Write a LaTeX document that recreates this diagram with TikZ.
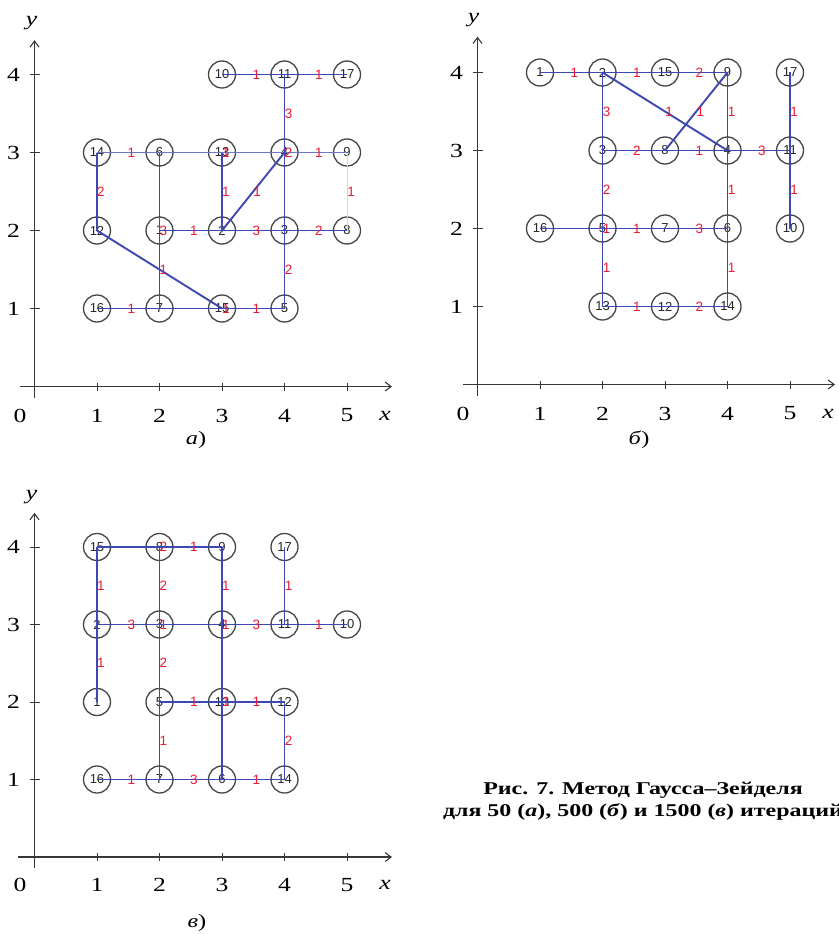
\documentclass[tikz,border=0pt]{standalone}
\usepackage{fontspec}
\setmainfont{Liberation Serif}
\newfontfamily\lsans{Liberation Sans}
\newfontfamily\wserif[FakeStretch=1.28]{Liberation Serif}
\newfontfamily\capserif[FakeStretch=1.33]{Liberation Serif}
\usetikzlibrary{arrows.meta}
\definecolor{edgeblue}{RGB}{62,72,178}
\definecolor{lblred}{RGB}{238,24,52}
\definecolor{circgray}{RGB}{70,70,70}
\definecolor{axgray}{RGB}{55,55,55}
\begin{document}
\begin{tikzpicture}[x=1pt,y=-1pt,
  vtx/.style={circle,draw=circgray,line width=1.3pt,minimum size=27pt,inner sep=0pt,
    font=\lsans\fontsize{13}{13}\selectfont,text=black!85},
  edge/.style={draw=edgeblue,line width=1.9pt},
  thinedge/.style={draw=edgeblue!75,line width=1.1pt},
  faintedge/.style={draw=edgeblue!22,line width=1pt},
  lh/.style={pos=0.55,text=lblred,font=\lsans\fontsize{13.5}{13.5}\selectfont,inner sep=0pt},
  lv/.style={pos=0.5,xshift=4pt,text=lblred,font=\lsans\fontsize{13.5}{13.5}\selectfont,inner sep=0pt},
  axis/.style={draw=axgray,line width=1.3pt},
  axarrow/.style={axis,-{Straight Barb[length=6pt,width=9pt,line width=1.1pt]}},
  axtick/.style={draw=axgray,line width=1pt},
  axnum/.style={font=\wserif\fontsize{20}{24}\selectfont,inner sep=0pt},
  axvar/.style={font=\wserif\itshape\fontsize{20}{24}\selectfont,inner sep=0pt},
  subcap/.style={font=\wserif\fontsize{19}{23}\selectfont,inner sep=0pt},
  figcap/.style={font=\capserif\bfseries\fontsize{18}{22}\selectfont,align=center,inner sep=0pt}
]
\useasboundingbox[fill=white] (0,0) rectangle (838,934);

% ---------------- panel a ----------------
\begin{scope}[shift={(34.5pt,-386.5pt)},x=62.5pt,y=78pt]
  \draw[axarrow] (-0.23,0) -- (5.72,0);
  \draw[axarrow] (0,-0.15) -- (0,4.44);
  \foreach \i in {1,...,4} \draw[axtick] ([xshift=-5pt]0,\i) -- ([xshift=5pt]0,\i);
  \foreach \i in {1,...,5} \draw[axtick] ([yshift=-4pt]\i,0) -- ([yshift=4pt]\i,0);
  \foreach \i in {1,...,5} \node[axnum] (ax-a\i) at ([yshift=-29pt]\i,0) {\i};
  \node[axnum] (ax-a0) at ([xshift=-14.5pt,yshift=-29pt]0,0) {0};
  \foreach \i in {1,...,4} \node[axnum] (ay-a\i) at ([xshift=-21pt]0,\i) {\i};
  \node[axvar] (xv-a) at ([yshift=-29pt]5.61,0) {x};
  \node[axvar] (yv-a) at ([xshift=-3pt]0,4.66) {y};

  \node[vtx] (a1) at (2,2) {1};
  \node[vtx] (a2) at (3,2) {2};
  \node[vtx] (a3) at (4,2) {3};
  \node[vtx] (a4) at (4,3) {4};
  \node[vtx] (a5) at (4,1) {5};
  \node[vtx] (a6) at (2,3) {6};
  \node[vtx] (a7) at (2,1) {7};
  \node[vtx] (a8) at (5,2) {8};
  \node[vtx] (a9) at (5,3) {9};
  \node[vtx] (a10) at (3,4) {10};
  \node[vtx] (a11) at (4,4) {11};
  \node[vtx] (a12) at (1,2) {12};
  \node[vtx] (a13) at (3,3) {13};
  \node[vtx] (a14) at (1,3) {14};
  \node[vtx] (a15) at (3,1) {15};
  \node[vtx] (a16) at (1,1) {16};
  \node[vtx] (a17) at (5,4) {17};

  \draw[thinedge] (a14.center) -- (a6.center) node[lh]{1};
  \draw[thinedge] (a6.center) -- (a13.center);
  \draw[thinedge] (a13.center) -- (a4.center);
  \draw[thinedge] (a4.center) -- (a9.center) node[lh]{1};
  \draw[faintedge] (a9.center) -- (a8.center) node[lv]{1};
  \draw[edge] (a10.center) -- (a11.center) node[lh]{1};
  \draw[edge] (a11.center) -- (a17.center) node[lh]{1};
  \draw[edge] (a11.center) -- (a4.center) node[lv]{3};
  \draw[edge] (a4.center) -- (a3.center) node[lv,pos=0]{2};
  \draw[edge] (a14.center) -- (a12.center) node[lv]{2};
  \draw[edge] (a6.center) -- (a1.center) node[lv,pos=1]{3};
  \draw[edge] (a13.center) -- (a2.center) node[lv]{1} node[lv,pos=0]{1};
  \draw[edge] (a2.center) -- (a4.center) node[lv]{1};
  \draw[edge] (a1.center) -- (a2.center) node[lh]{1};
  \draw[edge] (a2.center) -- (a3.center) node[lh]{3};
  \draw[edge] (a3.center) -- (a8.center) node[lh]{2};
  \draw[edge] (a12.center) -- (a15.center);
  \draw[edge] (a1.center) -- (a7.center) node[lv]{1};
  \draw[edge] (a3.center) -- (a5.center) node[lv]{2};
  \draw[edge] (a16.center) -- (a7.center) node[lh]{1};
  \draw[edge] (a7.center) -- (a15.center) node[lv,pos=1]{1};
  \draw[edge] (a15.center) -- (a5.center) node[lh]{1};
\end{scope}
\node[subcap] (cap-a) at (196,440) {\textit{а})};

% ---------------- panel b ----------------
\begin{scope}[shift={(477.5pt,-384.5pt)},x=62.5pt,y=78pt]
  \draw[axarrow] (-0.23,0) -- (5.72,0);
  \draw[axarrow] (0,-0.15) -- (0,4.46);
  \foreach \i in {1,...,4} \draw[axtick] ([xshift=-5pt]0,\i) -- ([xshift=5pt]0,\i);
  \foreach \i in {1,...,5} \draw[axtick] ([yshift=-4pt]\i,0) -- ([yshift=4pt]\i,0);
  \foreach \i in {1,...,5} \node[axnum] (ax-b\i) at ([yshift=-29pt]\i,0) {\i};
  \node[axnum] (ax-b0) at ([xshift=-14.5pt,yshift=-29pt]0,0) {0};
  \foreach \i in {1,...,4} \node[axnum] (ay-b\i) at ([xshift=-21pt]0,\i) {\i};
  \node[axvar] (xv-b) at ([yshift=-29pt]5.61,0) {x};
  \node[axvar] (yv-b) at ([xshift=-4pt]0,4.67) {y};

  \node[vtx] (b1) at (1,4) {1};
  \node[vtx] (b2) at (2,4) {2};
  \node[vtx] (b15) at (3,4) {15};
  \node[vtx] (b9) at (4,4) {9};
  \node[vtx] (b17) at (5,4) {17};
  \node[vtx] (b3) at (2,3) {3};
  \node[vtx] (b8) at (3,3) {8};
  \node[vtx] (b4) at (4,3) {4};
  \node[vtx] (b11) at (5,3) {11};
  \node[vtx] (b16) at (1,2) {16};
  \node[vtx] (b5) at (2,2) {5};
  \node[vtx] (b7) at (3,2) {7};
  \node[vtx] (b6) at (4,2) {6};
  \node[vtx] (b10) at (5,2) {10};
  \node[vtx] (b13) at (2,1) {13};
  \node[vtx] (b12) at (3,1) {12};
  \node[vtx] (b14) at (4,1) {14};

  \draw[edge] (b1.center) -- (b2.center) node[lh]{1};
  \draw[edge] (b2.center) -- (b15.center) node[lh]{1};
  \draw[edge] (b15.center) -- (b9.center) node[lh]{2};
  \draw[edge] (b2.center) -- (b4.center) node[lv]{1};
  \draw[edge] (b8.center) -- (b9.center) node[lv]{1};
  \draw[edge] (b2.center) -- (b3.center) node[lv]{3};
  \draw[edge] (b9.center) -- (b4.center) node[lv]{1};
  \draw[edge] (b17.center) -- (b11.center) node[lv]{1};
  \draw[edge] (b3.center) -- (b8.center) node[lh]{2};
  \draw[edge] (b8.center) -- (b4.center) node[lh]{1};
  \draw[edge] (b4.center) -- (b11.center) node[lh]{3};
  \draw[edge] (b3.center) -- (b5.center) node[lv]{2};
  \draw[edge] (b4.center) -- (b6.center) node[lv]{1};
  \draw[edge] (b11.center) -- (b10.center) node[lv]{1};
  \draw[edge] (b16.center) -- (b5.center) node[lv,pos=1]{1};
  \draw[edge] (b5.center) -- (b7.center) node[lh]{1};
  \draw[edge] (b7.center) -- (b6.center) node[lh]{3};
  \draw[edge] (b5.center) -- (b13.center) node[lv]{1};
  \draw[edge] (b6.center) -- (b14.center) node[lv]{1};
  \draw[edge] (b13.center) -- (b12.center) node[lh]{1};
  \draw[edge] (b12.center) -- (b14.center) node[lh]{2};
\end{scope}
\node[subcap] (cap-b) at (639,440) {\textit{б})};

% ---------------- panel c ----------------
\begin{scope}[shift={(34.5pt,-857pt)},x=62.5pt,y=77.5pt]
  \draw[axarrow] (-0.26,0) -- (5.72,0);
  \draw[axarrow] (0,-0.14) -- (0,4.44);
  \foreach \i in {1,...,4} \draw[axtick] ([xshift=-5pt]0,\i) -- ([xshift=5pt]0,\i);
  \foreach \i in {1,...,5} \draw[axtick] ([yshift=-4pt]\i,0) -- ([yshift=4pt]\i,0);
  \foreach \i in {1,...,5} \node[axnum] (ax-c\i) at ([yshift=-28pt]\i,0) {\i};
  \node[axnum] (ax-c0) at ([xshift=-14.5pt,yshift=-28pt]0,0) {0};
  \foreach \i in {1,...,4} \node[axnum] (ay-c\i) at ([xshift=-21pt]0,\i) {\i};
  \node[axvar] (xv-c) at ([yshift=-28pt]5.61,0) {x};
  \node[axvar] (yv-c) at ([xshift=-3pt]0,4.65) {y};

  \node[vtx] (c15) at (1,4) {15};
  \node[vtx] (c8) at (2,4) {8};
  \node[vtx] (c9) at (3,4) {9};
  \node[vtx] (c17) at (4,4) {17};
  \node[vtx] (c2) at (1,3) {2};
  \node[vtx] (c3) at (2,3) {3};
  \node[vtx] (c4) at (3,3) {4};
  \node[vtx] (c11) at (4,3) {11};
  \node[vtx] (c10) at (5,3) {10};
  \node[vtx] (c1) at (1,2) {1};
  \node[vtx] (c5) at (2,2) {5};
  \node[vtx] (c13) at (3,2) {13};
  \node[vtx] (c12) at (4,2) {12};
  \node[vtx] (c16) at (1,1) {16};
  \node[vtx] (c7) at (2,1) {7};
  \node[vtx] (c6) at (3,1) {6};
  \node[vtx] (c14) at (4,1) {14};

  \draw[edge] (c15.center) -- (c8.center) node[lv,pos=1]{2};
  \draw[edge] (c8.center) -- (c9.center) node[lh]{1};
  \draw[edge] (c15.center) -- (c2.center) node[lv]{1};
  \draw[edge] (c8.center) -- (c3.center) node[lv]{2};
  \draw[edge] (c9.center) -- (c4.center) node[lv]{1};
  \draw[edge] (c17.center) -- (c11.center) node[lv]{1};
  \draw[edge] (c2.center) -- (c3.center) node[lh]{3};
  \draw[edge] (c3.center) -- (c4.center) node[lv,pos=0]{1};
  \draw[edge] (c4.center) -- (c11.center) node[lh]{3};
  \draw[edge] (c4.center) -- (c13.center) node[lv,pos=0]{1};
  \draw[edge] (c11.center) -- (c10.center) node[lh]{1};
  \draw[edge] (c2.center) -- (c1.center) node[lv]{1};
  \draw[edge] (c3.center) -- (c5.center) node[lv]{2};
  \draw[edge] (c13.center) -- (c6.center) node[lv,pos=0]{1};
  \draw[edge] (c5.center) -- (c13.center) node[lh]{1};
  \draw[edge] (c13.center) -- (c12.center) node[lh]{1};
  \draw[edge] (c5.center) -- (c7.center) node[lv]{1};
  \draw[edge] (c12.center) -- (c14.center) node[lv]{2};
  \draw[edge] (c16.center) -- (c7.center) node[lh]{1};
  \draw[edge] (c7.center) -- (c6.center) node[lh]{3};
  \draw[edge] (c6.center) -- (c14.center) node[lh]{1};
\end{scope}
\node[subcap] (cap-c) at (197,923) {\textit{в})};

\node[figcap] (figcaption) at (643,801) {Рис. 7. Метод Гаусса–Зейделя\\для 50 (\textit{а}), 500 (\textit{б}) и 1500 (\textit{в}) итераций};
\end{tikzpicture}
\end{document}
